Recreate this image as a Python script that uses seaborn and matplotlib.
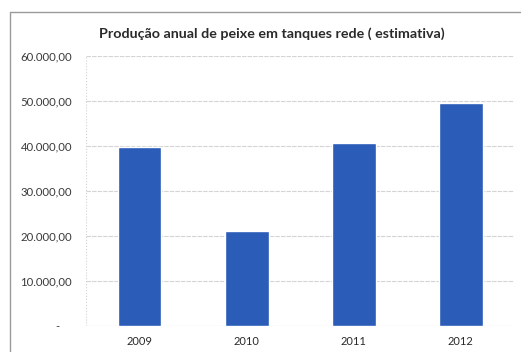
import seaborn as sns
import matplotlib.pyplot as plt
from matplotlib.lines import Line2D
from matplotlib.ticker import FuncFormatter, MultipleLocator

anos = ['2009', '2010', '2011', '2012']
producao = [39800, 21000, 40700, 49500]
titulo = 'Produção anual de peixe em tanques rede ( estimativa)'

sns.set_style("white")
plt.rcParams['font.family'] = ['Lato', 'DejaVu Sans']

fig = plt.figure(figsize=(5.21, 3.52), dpi=100)
ax = fig.add_axes([0.165, 0.074, 0.822, 0.767])

# moldura do grafico (so a esquerda e o topo aparecem no recorte)
fig.lines.append(Line2D([0.019, 0.019, 1.0], [0.0, 0.966, 0.966],
                        transform=fig.transFigure, color='#9a9a9a', linewidth=1.0))

sns.barplot(x=anos, y=producao, color='#2a5cb8', saturation=1, width=0.41, ax=ax)

ax.set_ylim(0, 60000)
ax.set_xlim(-0.5, 3.5)
ax.yaxis.set_major_locator(MultipleLocator(10000))


def fmt(v, pos):
    if v == 0:
        return '-    '
    s = '{:,.2f}'.format(v)
    return s.replace(',', 'X').replace('.', ',').replace('X', '.')


ax.yaxis.set_major_formatter(FuncFormatter(fmt))
ax.grid(axis='y', color='#d4d4d4', linewidth=0.8, linestyle=(0, (4, 1)))
ax.grid(axis='x', visible=False)
ax.set_axisbelow(True)
for s in ax.spines.values():
    s.set_visible(False)
ax.axvline(-0.5, color='#d0d0d0', linestyle=':', linewidth=0.8, zorder=0.5)
ax.axhline(0, color='#c8c8c8', linestyle=':', linewidth=0.8, zorder=0.5)
ax.tick_params(axis='y', labelsize=8.2, labelcolor='#3a3a3a', length=0, pad=10)
ax.tick_params(axis='x', labelsize=8, labelcolor='#2a2a2a', length=0, pad=7)

fig.text(0.522, 0.905, titulo, ha='center', va='center', fontsize=10.3,
         fontweight='bold', color='#2a2a2a')

fig.savefig('out.png', dpi=100)
